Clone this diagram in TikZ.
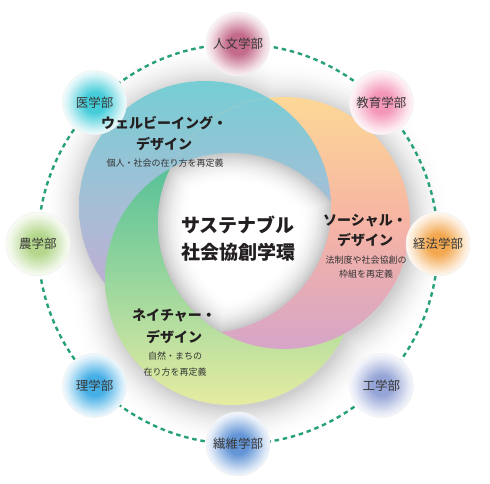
\documentclass[tikz,border=0pt]{standalone}
\usepackage{fontspec}
\setmainfont{Noto Sans CJK JP}
\definecolor{wtop}{RGB}{118,206,213}
\definecolor{wmid}{RGB}{166,190,214}
\definecolor{wbot}{RGB}{206,165,212}
\definecolor{stopc}{RGB}{253,216,150}
\definecolor{smid}{RGB}{246,180,164}
\definecolor{sbot}{RGB}{214,165,200}
\definecolor{ntop}{RGB}{80,190,150}
\definecolor{nmid}{RGB}{152,214,158}
\definecolor{nbot}{RGB}{230,236,160}
\definecolor{dashgreen}{RGB}{38,160,118}
\definecolor{inkc}{RGB}{35,31,32}
\definecolor{fJin}{RGB}{196,106,138}
\definecolor{fKyo}{RGB}{244,150,184}
\definecolor{fKei}{RGB}{243,168,80}
\definecolor{fKo}{RGB}{150,165,215}
\definecolor{fSen}{RGB}{100,150,215}
\definecolor{fRi}{RGB}{70,175,230}
\definecolor{fNo}{RGB}{180,215,140}
\definecolor{fI}{RGB}{70,205,218}
\colorlet{fcol}{white}
\pgfdeclareradialshading[fcol]{facblob}{\pgfpoint{0bp}{0bp}}{color(0bp)=(fcol); color(8bp)=(fcol); color(21bp)=(fcol!25!white); color(25bp)=(fcol!8!white); color(50bp)=(fcol!8!white)}
\tikzset{
  wshade/.style={top color=wtop, bottom color=wbot, middle color=wmid},
  sshade/.style={top color=stopc, bottom color=sbot, middle color=smid},
  nshade/.style={top color=ntop, bottom color=nbot, middle color=nmid},
  dashring/.style={draw=dashgreen, line width=2.4pt, dash pattern=on 4.5pt off 3.8pt},
  fac/.style={circle, minimum size=64pt, inner sep=0pt, draw=black!6, line width=0.5pt,
    /utils/exec={\colorlet{fcol}{#1}}, shade, shading=facblob,
    font=\fontsize{12.5}{14}\selectfont, text=black!78},
  ttl/.style={inner sep=0pt, align=center, text=inkc, font=\bfseries\fontsize{14}{#1}\selectfont},
  sub/.style={inner sep=0pt, align=center, text=black!80, font=\fontsize{9}{#1}\selectfont}
}
\begin{document}
\begin{tikzpicture}[x=1pt,y=-1pt]
\useasboundingbox[fill=white] (0,0) rectangle (490,484);
\coordinate (cW) at (205,207);
\coordinate (cS) at (284,223);
\coordinate (cN) at (231,279);
\coordinate (hW) at (207,210);
\coordinate (hS) at (286,226);
\coordinate (hN) at (233,282);
\coordinate (ringc) at (238,244);
% outer soft shadow
\foreach \k in {38,36,...,0} {
  \pgfmathsetmacro\pc{19*(1-\k/40)^2}
  \pgfmathsetmacro\rr{126+\k}
  \fill[black!\pc] (hW) circle[radius=\rr pt] (hS) circle[radius=\rr pt] (hN) circle[radius=\rr pt];
}
% dashed ring
\draw[dashring] (ringc) circle[radius=200pt];
% crescents
\shade[wshade] (cW) circle[radius=126pt];
\shade[nshade] (cN) circle[radius=126pt];
\shade[sshade] (cS) circle[radius=126pt];
\begin{scope}
  \clip (cS) circle[radius=126pt];
  \shade[wshade] (cW) circle[radius=126pt];
\end{scope}
% white centre with inner shadow
\foreach \k in {0,2,...,30} {
  \pgfmathsetmacro\pc{21*(1-\k/30)^2}
  \pgfmathsetmacro\rr{126-\k}
  \begin{scope}
    \clip (cW) circle[radius=\rr pt];
    \clip (cS) circle[radius=\rr pt];
    \fill[black!\pc] (cN) circle[radius=\rr pt];
  \end{scope}
}
% faculties
\node[fac=fJin] (jinbun) at (238,44) {人文学部};
\node[fac=fKyo] (kyoiku) at (381.4,102.6) {教育学部};
\node[fac=fKei] (keiho) at (438,244) {経法学部};
\node[fac=fKo] (kogaku) at (381.4,385.4) {工学部};
\node[fac=fSen] (seni) at (238,444) {繊維学部};
\node[fac=fRi] (rigaku) at (94.6,385.4) {理学部};
\node[fac=fNo] (nogaku) at (38,244) {農学部};
\node[fac=fI] (igaku) at (94.6,102.6) {医学部};
% texts
\node[inner sep=0pt, align=center, text=inkc, font=\bfseries\fontsize{19}{27}\selectfont] (core) at (238,238.5) {サステナブル\\社会協創学環};
\node[ttl=21] (wt) at (164,133.5) {ウェルビーイング・\\デザイン};
\node[sub=14] (ws) at (165,163) {個人・社会の在り方を再定義};
\node[ttl=20] (st) at (365,230) {ソーシャル・\\デザイン};
\node[sub=14.5] (ss) at (366,267) {法制度や社会協創の\\枠組を再定義};
\node[ttl=22] (nt) at (174,326) {ネイチャー・\\デザイン};
\node[sub=16] (ns) at (175,364) {自然・まちの\\在り方を再定義};
\end{tikzpicture}
\end{document}
